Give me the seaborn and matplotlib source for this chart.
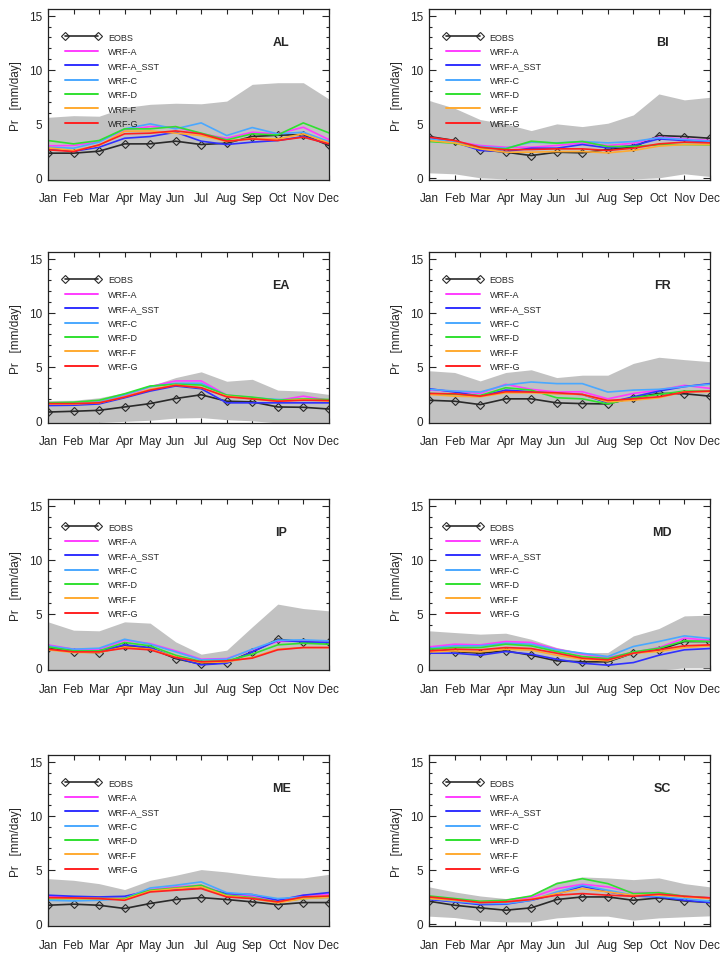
import matplotlib
matplotlib.use('Agg')
import matplotlib.pyplot as plt
from matplotlib.ticker import MultipleLocator
import seaborn as sns
import pandas as pd

months = ['Jan', 'Feb', 'Mar', 'Apr', 'May', 'Jun', 'Jul', 'Aug', 'Sep', 'Oct', 'Nov', 'Dec']
models = ['WRF-A', 'WRF-A_SST', 'WRF-C', 'WRF-D', 'WRF-F', 'WRF-G']
colors = ['#ff3cff', '#3030ff', '#4aa8ff', '#30e030', '#ffaa30', '#ff2020']
regions = ['AL', 'BI', 'EA', 'FR', 'IP', 'MD', 'ME', 'SC']

# grey band (upper / lower), EOBS and the six WRF runs, mm/day
AL = {
    'upper': [5.6, 5.75, 5.7, 6.5, 6.8, 6.9, 6.85, 7.1, 8.65, 8.8, 8.8, 7.3],
    'lower': [-0.2] * 12,
    'EOBS': [2.28, 2.28, 2.46, 3.14, 3.14, 3.39, 3.08, 3.2, 3.82, 3.94, 4.0, 2.99],
    'WRF-A': [2.96, 2.99, 3.36, 4.43, 4.74, 4.68, 4.07, 3.66, 4.22, 4.07, 4.68, 3.54],
    'WRF-A_SST': [2.68, 2.46, 2.83, 3.66, 3.82, 4.22, 3.39, 3.08, 3.3, 3.45, 3.82, 3.14],
    'WRF-C': [2.83, 2.74, 3.3, 4.53, 4.99, 4.53, 5.08, 3.91, 4.65, 4.07, 4.22, 3.36],
    'WRF-D': [3.45, 3.14, 3.45, 4.53, 4.53, 4.74, 4.13, 3.51, 4.07, 3.97, 5.08, 4.16],
    'WRF-F': [2.77, 2.53, 2.99, 4.31, 4.34, 4.13, 3.91, 3.36, 3.66, 3.6, 4.07, 3.23],
    'WRF-G': [2.59, 2.43, 3.05, 4.07, 4.13, 4.34, 4.07, 3.39, 3.6, 3.45, 3.76, 3.14],
}
BI = {
    'upper': [7.15, 6.44, 5.39, 4.99, 4.37, 4.99, 4.74, 5.05, 5.82, 7.76, 7.21, 7.45],
    'lower': [0.46, 0.37, 0.0, -0.1, -0.1, -0.1, -0.1, -0.1, -0.1, 0.0, 0.37, 0.12],
    'EOBS': [3.82, 3.45, 2.59, 2.37, 2.06, 2.37, 2.31, 2.62, 2.83, 3.91, 3.82, 3.66],
    'WRF-A': [3.66, 3.36, 2.99, 2.83, 2.83, 2.99, 3.23, 2.99, 3.2, 3.76, 3.6, 3.45],
    'WRF-A_SST': [3.76, 3.3, 2.53, 2.43, 2.74, 2.74, 3.08, 2.77, 2.99, 3.6, 3.45, 3.36],
    'WRF-C': [3.6, 3.3, 2.9, 2.74, 3.3, 3.23, 3.36, 3.23, 3.36, 3.7, 3.54, 3.39],
    'WRF-D': [3.36, 3.2, 2.74, 2.68, 3.39, 3.2, 3.36, 2.9, 2.9, 3.05, 3.08, 3.05],
    'WRF-F': [3.45, 3.23, 2.68, 2.37, 2.37, 2.43, 2.43, 2.31, 2.53, 2.93, 3.08, 3.08],
    'WRF-G': [3.76, 3.45, 2.83, 2.59, 2.62, 2.68, 2.68, 2.53, 2.74, 3.14, 3.3, 3.23],
}
EA = {
    'upper': [1.88, 1.9, 2.13, 2.6, 3.22, 4.0, 4.53, 3.66, 3.84, 2.84, 2.75, 2.44],
    'lower': [-0.2, -0.2, -0.15, -0.05, 0.05, 0.25, 0.3, 0.1, 0.0, -0.2, -0.2, -0.2],
    'EOBS': [0.81, 0.88, 0.97, 1.28, 1.59, 2.06, 2.41, 1.81, 1.75, 1.28, 1.25, 1.09],
    'WRF-A': [1.59, 1.59, 1.75, 2.34, 3.16, 3.69, 3.69, 2.38, 2.13, 1.88, 2.28, 1.9],
    'WRF-A_SST': [1.41, 1.44, 1.56, 2.13, 2.75, 3.22, 2.97, 1.66, 1.66, 1.66, 1.66, 1.66],
    'WRF-C': [1.56, 1.59, 1.72, 2.41, 3.16, 3.47, 3.47, 2.34, 2.13, 1.97, 1.9, 1.88],
    'WRF-D': [1.66, 1.72, 1.9, 2.5, 3.22, 3.38, 3.31, 2.38, 2.19, 1.9, 2.03, 1.97],
    'WRF-F': [1.56, 1.56, 1.66, 2.22, 2.91, 3.31, 3.06, 2.28, 2.03, 1.81, 1.97, 1.81],
    'WRF-G': [1.59, 1.59, 1.66, 2.19, 2.84, 3.28, 3.06, 2.22, 2.03, 1.81, 1.9, 1.88],
}
FR = {
    'upper': [4.63, 4.47, 3.69, 4.47, 4.72, 4.0, 4.22, 4.22, 5.31, 5.88, 5.66, 5.47],
    'lower': [-0.2] * 12,
    'EOBS': [1.9, 1.81, 1.5, 2.03, 2.03, 1.66, 1.59, 1.56, 2.13, 2.53, 2.5, 2.28],
    'WRF-A': [2.84, 2.75, 2.53, 3.38, 2.91, 2.66, 2.69, 2.03, 2.53, 2.84, 3.28, 3.0],
    'WRF-A_SST': [2.97, 2.66, 2.28, 2.84, 2.69, 2.53, 2.44, 1.66, 2.22, 2.75, 3.16, 3.44],
    'WRF-C': [2.91, 2.75, 2.66, 3.31, 3.59, 3.44, 3.44, 2.66, 2.84, 2.91, 3.16, 3.38],
    'WRF-D': [2.53, 2.44, 2.34, 3.06, 2.84, 2.13, 2.03, 1.56, 2.13, 2.44, 2.75, 2.75],
    'WRF-F': [2.44, 2.28, 2.22, 2.59, 2.59, 2.5, 2.44, 1.75, 1.9, 2.13, 2.69, 2.69],
    'WRF-G': [2.53, 2.5, 2.28, 2.69, 2.66, 2.59, 2.44, 1.88, 2.03, 2.22, 2.66, 2.75],
}
IP = {
    'upper': [4.26, 3.49, 3.43, 4.26, 4.14, 2.41, 1.27, 1.64, 3.8, 5.9, 5.49, 5.28],
    'lower': [-0.2] * 12,
    'EOBS': [1.88, 1.48, 1.42, 2.04, 1.82, 0.86, 0.34, 0.49, 1.48, 2.65, 2.41, 2.35],
    'WRF-A': [2.13, 1.73, 1.73, 2.56, 2.25, 1.57, 0.8, 0.86, 1.67, 2.44, 2.5, 2.5],
    'WRF-A_SST': [1.98, 1.57, 1.57, 2.13, 1.88, 0.96, 0.28, 0.43, 1.48, 2.56, 2.41, 2.35],
    'WRF-C': [2.04, 1.73, 1.82, 2.65, 2.19, 1.48, 0.74, 0.8, 1.73, 2.56, 2.59, 2.5],
    'WRF-D': [1.94, 1.57, 1.57, 2.35, 2.04, 1.17, 0.59, 0.65, 1.27, 2.13, 2.28, 2.19],
    'WRF-F': [1.67, 1.42, 1.42, 1.94, 1.73, 1.02, 0.49, 0.56, 0.96, 1.73, 1.88, 1.88],
    'WRF-G': [1.73, 1.48, 1.48, 1.82, 1.67, 0.96, 0.56, 0.65, 0.9, 1.67, 1.88, 1.88],
}
MD = {
    'upper': [3.43, 3.27, 3.12, 3.21, 2.65, 1.88, 1.42, 1.42, 2.96, 3.64, 4.81, 4.88],
    'lower': [-0.2] * 10 + [0.0, 0.0],
    'EOBS': [1.64, 1.51, 1.36, 1.57, 1.17, 0.65, 0.56, 0.56, 1.36, 1.67, 2.44, 2.44],
    'WRF-A': [1.94, 2.19, 2.13, 2.44, 2.35, 1.73, 1.27, 0.96, 1.42, 1.88, 2.75, 2.56],
    'WRF-A_SST': [1.36, 1.36, 1.17, 1.51, 1.27, 0.8, 0.43, 0.25, 0.49, 1.17, 1.67, 1.79],
    'WRF-C': [1.82, 2.04, 2.04, 2.28, 2.19, 1.67, 1.36, 1.05, 1.98, 2.44, 2.96, 2.72],
    'WRF-D': [1.73, 1.88, 1.88, 2.19, 2.04, 1.51, 1.05, 0.86, 1.48, 1.82, 2.5, 2.44],
    'WRF-F': [1.48, 1.57, 1.48, 1.73, 1.64, 1.17, 0.8, 0.65, 1.36, 1.51, 1.88, 2.04],
    'WRF-G': [1.57, 1.73, 1.67, 1.88, 1.79, 1.36, 0.9, 0.74, 1.36, 1.67, 2.04, 2.13],
}
ME = {
    'upper': [4.18, 4.03, 3.72, 3.17, 4.03, 4.49, 5.02, 4.8, 4.49, 4.25, 4.25, 4.58],
    'lower': [-0.2] * 12,
    'EOBS': [1.72, 1.82, 1.72, 1.42, 1.88, 2.25, 2.43, 2.25, 2.03, 1.78, 1.97, 1.97],
    'WRF-A': [2.55, 2.49, 2.49, 2.49, 3.17, 3.42, 3.57, 2.74, 2.55, 2.12, 2.65, 2.74],
    'WRF-A_SST': [2.65, 2.55, 2.49, 2.55, 3.05, 3.2, 3.35, 2.8, 2.71, 2.18, 2.65, 2.89],
    'WRF-C': [2.18, 2.12, 2.18, 2.34, 3.32, 3.57, 3.88, 2.89, 2.71, 2.34, 2.49, 2.4],
    'WRF-D': [2.34, 2.34, 2.34, 2.34, 3.11, 3.32, 3.57, 2.65, 2.43, 2.03, 2.34, 2.49],
    'WRF-F': [2.4, 2.34, 2.34, 2.25, 3.02, 3.26, 3.42, 2.58, 2.34, 1.94, 2.34, 2.43],
    'WRF-G': [2.43, 2.4, 2.34, 2.18, 2.95, 3.11, 3.26, 2.49, 2.34, 2.03, 2.49, 2.58],
}
SC = {
    'upper': [3.42, 2.95, 2.58, 2.34, 2.65, 3.88, 4.34, 4.25, 4.09, 4.25, 3.72, 3.42],
    'lower': [0.71, 0.58, 0.28, 0.18, 0.18, 0.55, 0.71, 0.71, 0.34, 0.55, 0.65, 0.74],
    'EOBS': [2.09, 1.72, 1.48, 1.26, 1.48, 2.25, 2.49, 2.49, 2.18, 2.4, 2.12, 1.97],
    'WRF-A': [2.43, 2.18, 2.03, 2.18, 2.43, 3.26, 3.66, 3.42, 2.89, 2.89, 2.55, 2.43],
    'WRF-A_SST': [2.25, 2.03, 1.78, 1.82, 2.18, 2.74, 3.48, 2.95, 2.58, 2.49, 2.18, 1.97],
    'WRF-C': [2.34, 2.09, 1.88, 1.88, 2.18, 2.95, 3.57, 3.11, 2.65, 2.55, 2.34, 2.09],
    'WRF-D': [2.58, 2.34, 2.09, 2.18, 2.58, 3.72, 4.18, 3.72, 2.8, 2.89, 2.55, 2.4],
    'WRF-F': [2.34, 2.18, 1.97, 2.03, 2.28, 2.8, 3.26, 2.95, 2.65, 2.65, 2.49, 2.34],
    'WRF-G': [2.49, 2.25, 1.97, 2.03, 2.25, 2.65, 2.8, 2.65, 2.55, 2.74, 2.55, 2.4],
}
region_data = {'AL': AL, 'BI': BI, 'EA': EA, 'FR': FR, 'IP': IP, 'MD': MD, 'ME': ME, 'SC': SC}

sns.set_style('white')
plt.rcParams['font.family'] = ['Liberation Sans', 'DejaVu Sans']

fig = plt.figure(figsize=(7.2, 9.54), dpi=100)
lefts = [0.0667, 0.596]
bottoms = [0.8103, 0.5556, 0.2966, 0.0283]
w, h = 0.390, 0.179

x = list(range(12))
for i, reg in enumerate(regions):
    d = region_data[reg]
    ax = fig.add_axes([lefts[i % 2], bottoms[i // 2], w, h])
    ax.fill_between(x, d['lower'], d['upper'], color='#c2c2c2', lw=0, zorder=1)

    df = pd.DataFrame({'month': x * 6,
                       'pr': sum([d[m] for m in models], []),
                       'model': sum([[m] * 12 for m in models], [])})
    sns.lineplot(data=df, x='month', y='pr', hue='model', hue_order=models,
                 palette=colors, lw=1.2, ax=ax, legend=False, zorder=3)
    sns.lineplot(x=x, y=d['EOBS'], color='#2a2a2a', lw=1.2, marker='D', markersize=3.8,
                 markerfacecolor='none', markeredgecolor='#2a2a2a', markeredgewidth=0.8,
                 ax=ax, zorder=2)

    handles = [plt.Line2D([], [], color='#2a2a2a', lw=1.2, marker='D', markersize=3.8,
                          mfc='none', mec='#2a2a2a', mew=0.8)]
    handles += [plt.Line2D([], [], color=c, lw=1.4) for c in colors]
    ax.legend(handles, ['EOBS'] + models, loc='upper left', bbox_to_anchor=(0.035, 0.89),
              frameon=False, fontsize=6.5, handlelength=4.3, handletextpad=0.8,
              labelspacing=0.6, borderpad=0, numpoints=2)

    ax.text(0.83, 0.81, reg, transform=ax.transAxes, ha='center', va='center',
            fontsize=9, fontweight='bold')

    ax.set_xlim(0, 11)
    ax.set_ylim(-0.2, 15.6)
    ax.set_xticks(x)
    ax.set_xticklabels(months)
    ax.set_yticks([0, 5, 10, 15])
    ax.yaxis.set_minor_locator(MultipleLocator(1))
    ax.tick_params(axis='x', direction='in', top=True, bottom=True, length=3.5,
                   width=0.8, pad=9, labelsize=8.5)
    ax.tick_params(axis='y', which='major', direction='in', left=True, right=True,
                   length=5, width=0.8, labelsize=8.5, pad=4)
    ax.tick_params(axis='y', which='minor', direction='in', left=True, right=True,
                   length=2.5, width=0.8)
    ax.set_xlabel('')
    ax.set_ylabel('Pr   [mm/day]', fontsize=8.5, labelpad=5)
    for s in ax.spines.values():
        s.set_color('#222222')
        s.set_linewidth(0.9)
        s.set_zorder(5)

fig.savefig('out.png', dpi=100)
